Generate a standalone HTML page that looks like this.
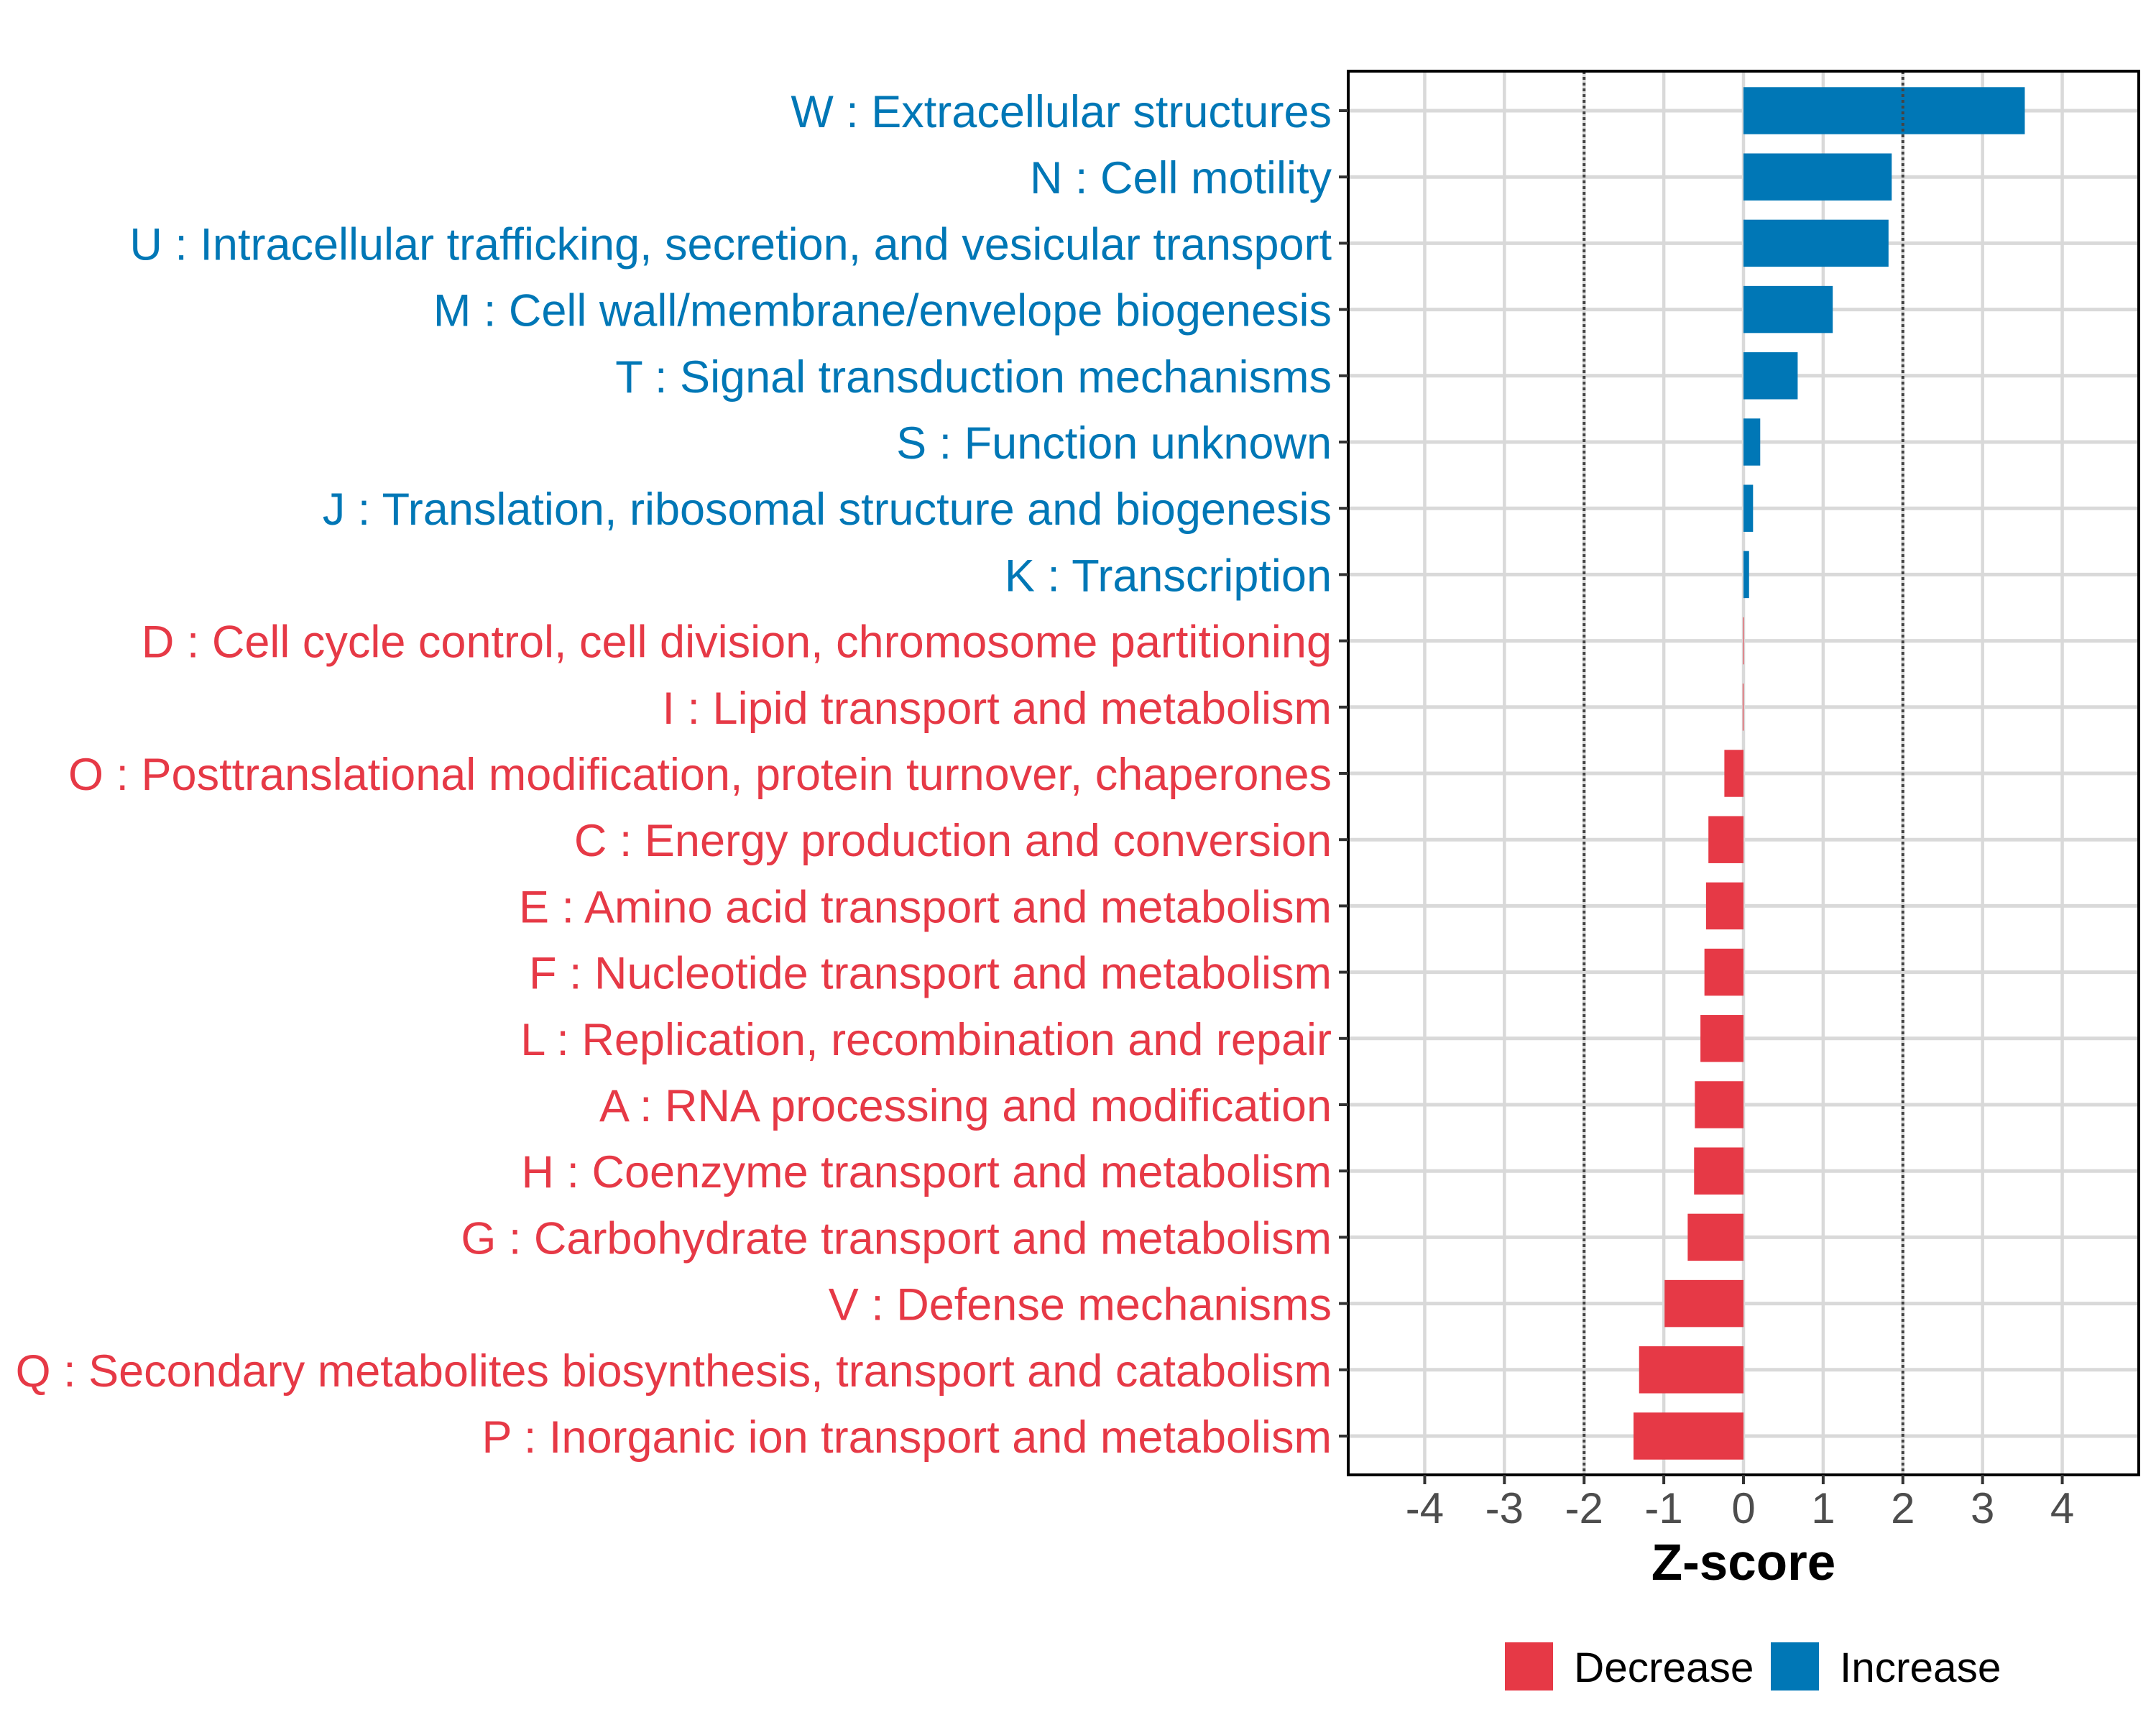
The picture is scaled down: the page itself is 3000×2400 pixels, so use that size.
<!DOCTYPE html>
<html><head><meta charset="utf-8"><style>
html,body{margin:0;padding:0;background:#fff}
svg{display:block}
text{font-family:"Liberation Sans",sans-serif}
</style></head><body>
<svg id="chart" width="3000" height="2400" viewBox="0 0 3000 2400" xmlns="http://www.w3.org/2000/svg">
<rect width="3000" height="2400" fill="#fff"/>
<g id="grid"></g>
<g id="bars"></g>
<g id="refs"></g>
<rect x="1876" y="99" width="1100" height="1953" fill="none" stroke="#000" stroke-width="4"/>
<g id="yaxis"></g>
<g id="xaxis"></g>
<text x="2426" y="2198" text-anchor="middle" font-size="71" font-weight="bold" fill="#000">Z-score</text>
<g>
<rect x="2094" y="2285" width="67" height="67" fill="#E63946"/>
<text x="2190" y="2340" font-size="58.5" fill="#000">Decrease</text>
<rect x="2464" y="2285" width="67" height="67" fill="#0077B6"/>
<text x="2560" y="2340" font-size="58.5" fill="#000">Increase</text>
</g>
</svg>
<script>
const categories = [
"W : Extracellular structures",
"N : Cell motility",
"U : Intracellular trafficking, secretion, and vesicular transport",
"M : Cell wall/membrane/envelope biogenesis",
"T : Signal transduction mechanisms",
"S : Function unknown",
"J : Translation, ribosomal structure and biogenesis",
"K : Transcription",
"D : Cell cycle control, cell division, chromosome partitioning",
"I : Lipid transport and metabolism",
"O : Posttranslational modification, protein turnover, chaperones",
"C : Energy production and conversion",
"E : Amino acid transport and metabolism",
"F : Nucleotide transport and metabolism",
"L : Replication, recombination and repair",
"A : RNA processing and modification",
"H : Coenzyme transport and metabolism",
"G : Carbohydrate transport and metabolism",
"V : Defense mechanisms",
"Q : Secondary metabolites biosynthesis, transport and catabolism",
"P : Inorganic ion transport and metabolism"
];
const zscores = [3.53,1.86,1.82,1.12,0.68,0.21,0.12,0.07,-0.005,-0.01,-0.24,-0.44,-0.47,-0.49,-0.54,-0.61,-0.62,-0.70,-0.99,-1.31,-1.38];
const xTicks = [-4,-3,-2,-1,0,1,2,3,4];
const xTickLabels = ["-4","-3","-2","-1","0","1","2","3","4"];
const refLines = [-2,2];

const NS="http://www.w3.org/2000/svg";
const PL=1876, PR=2976, PT=99, PB=2052;
const XMIN=-4.96, XMAX=4.96;
function xs(v){return PL+(v-XMIN)/(XMAX-XMIN)*(PR-PL);}
const ROW0=154, ROWN=1998;
function ys(i){return ROW0+i*(ROWN-ROW0)/(categories.length-1);}
const step=(ROWN-ROW0)/(categories.length-1);
function mk(tag,attrs,parent){const e=document.createElementNS(NS,tag);for(const k in attrs)e.setAttribute(k,attrs[k]);parent.appendChild(e);return e;}
const grid=document.getElementById('grid'), bars=document.getElementById('bars'), refs=document.getElementById('refs'), yax=document.getElementById('yaxis'), xax=document.getElementById('xaxis');

xTicks.forEach((t,i)=>{
  const l=mk('line',{x1:xs(t),x2:xs(t),y1:PT,y2:PB,stroke:'#d9d9d9','stroke-width':4.5},grid);
  
  
  const tk=mk('line',{x1:xs(t),x2:xs(t),y1:PB,y2:PB+13,stroke:'#333','stroke-width':4},xax);
  
  
  const tx=mk('text',{x:xs(t),y:2119,'text-anchor':'middle','font-size':60,fill:'#4d4d4d'},xax);
  tx.textContent=xTickLabels[i];
  
  
});
categories.forEach((c,i)=>{
  const y=ys(i);
  const l=mk('line',{x1:PL,x2:PR,y1:y,y2:y,stroke:'#d9d9d9','stroke-width':5},grid);
  
  
  const v=zscores[i];
  const col=v>=0?'#0077B6':'#E63946';
  const h=step*0.71;
  const x0=Math.min(xs(0),xs(v)), w=Math.max(Math.abs(xs(v)-xs(0)),1);
  const b=mk('rect',{x:x0,y:y-h/2,width:w,height:h,fill:col},bars);
  
  
  const tk=mk('line',{x1:PL-13,x2:PL,y1:y,y2:y,stroke:'#333','stroke-width':4},yax);
  
  
  const tx=mk('text',{x:1853,y:y+23,'text-anchor':'end','font-size':63,fill:col},yax);
  tx.textContent=c;
  
  
});
refLines.forEach(r=>{
  const l=mk('line',{x1:xs(r),x2:xs(r),y1:PT,y2:PB,stroke:'#444','stroke-width':4,'stroke-dasharray':'4 4'},refs);
  
  
});
</script>
</body></html>
